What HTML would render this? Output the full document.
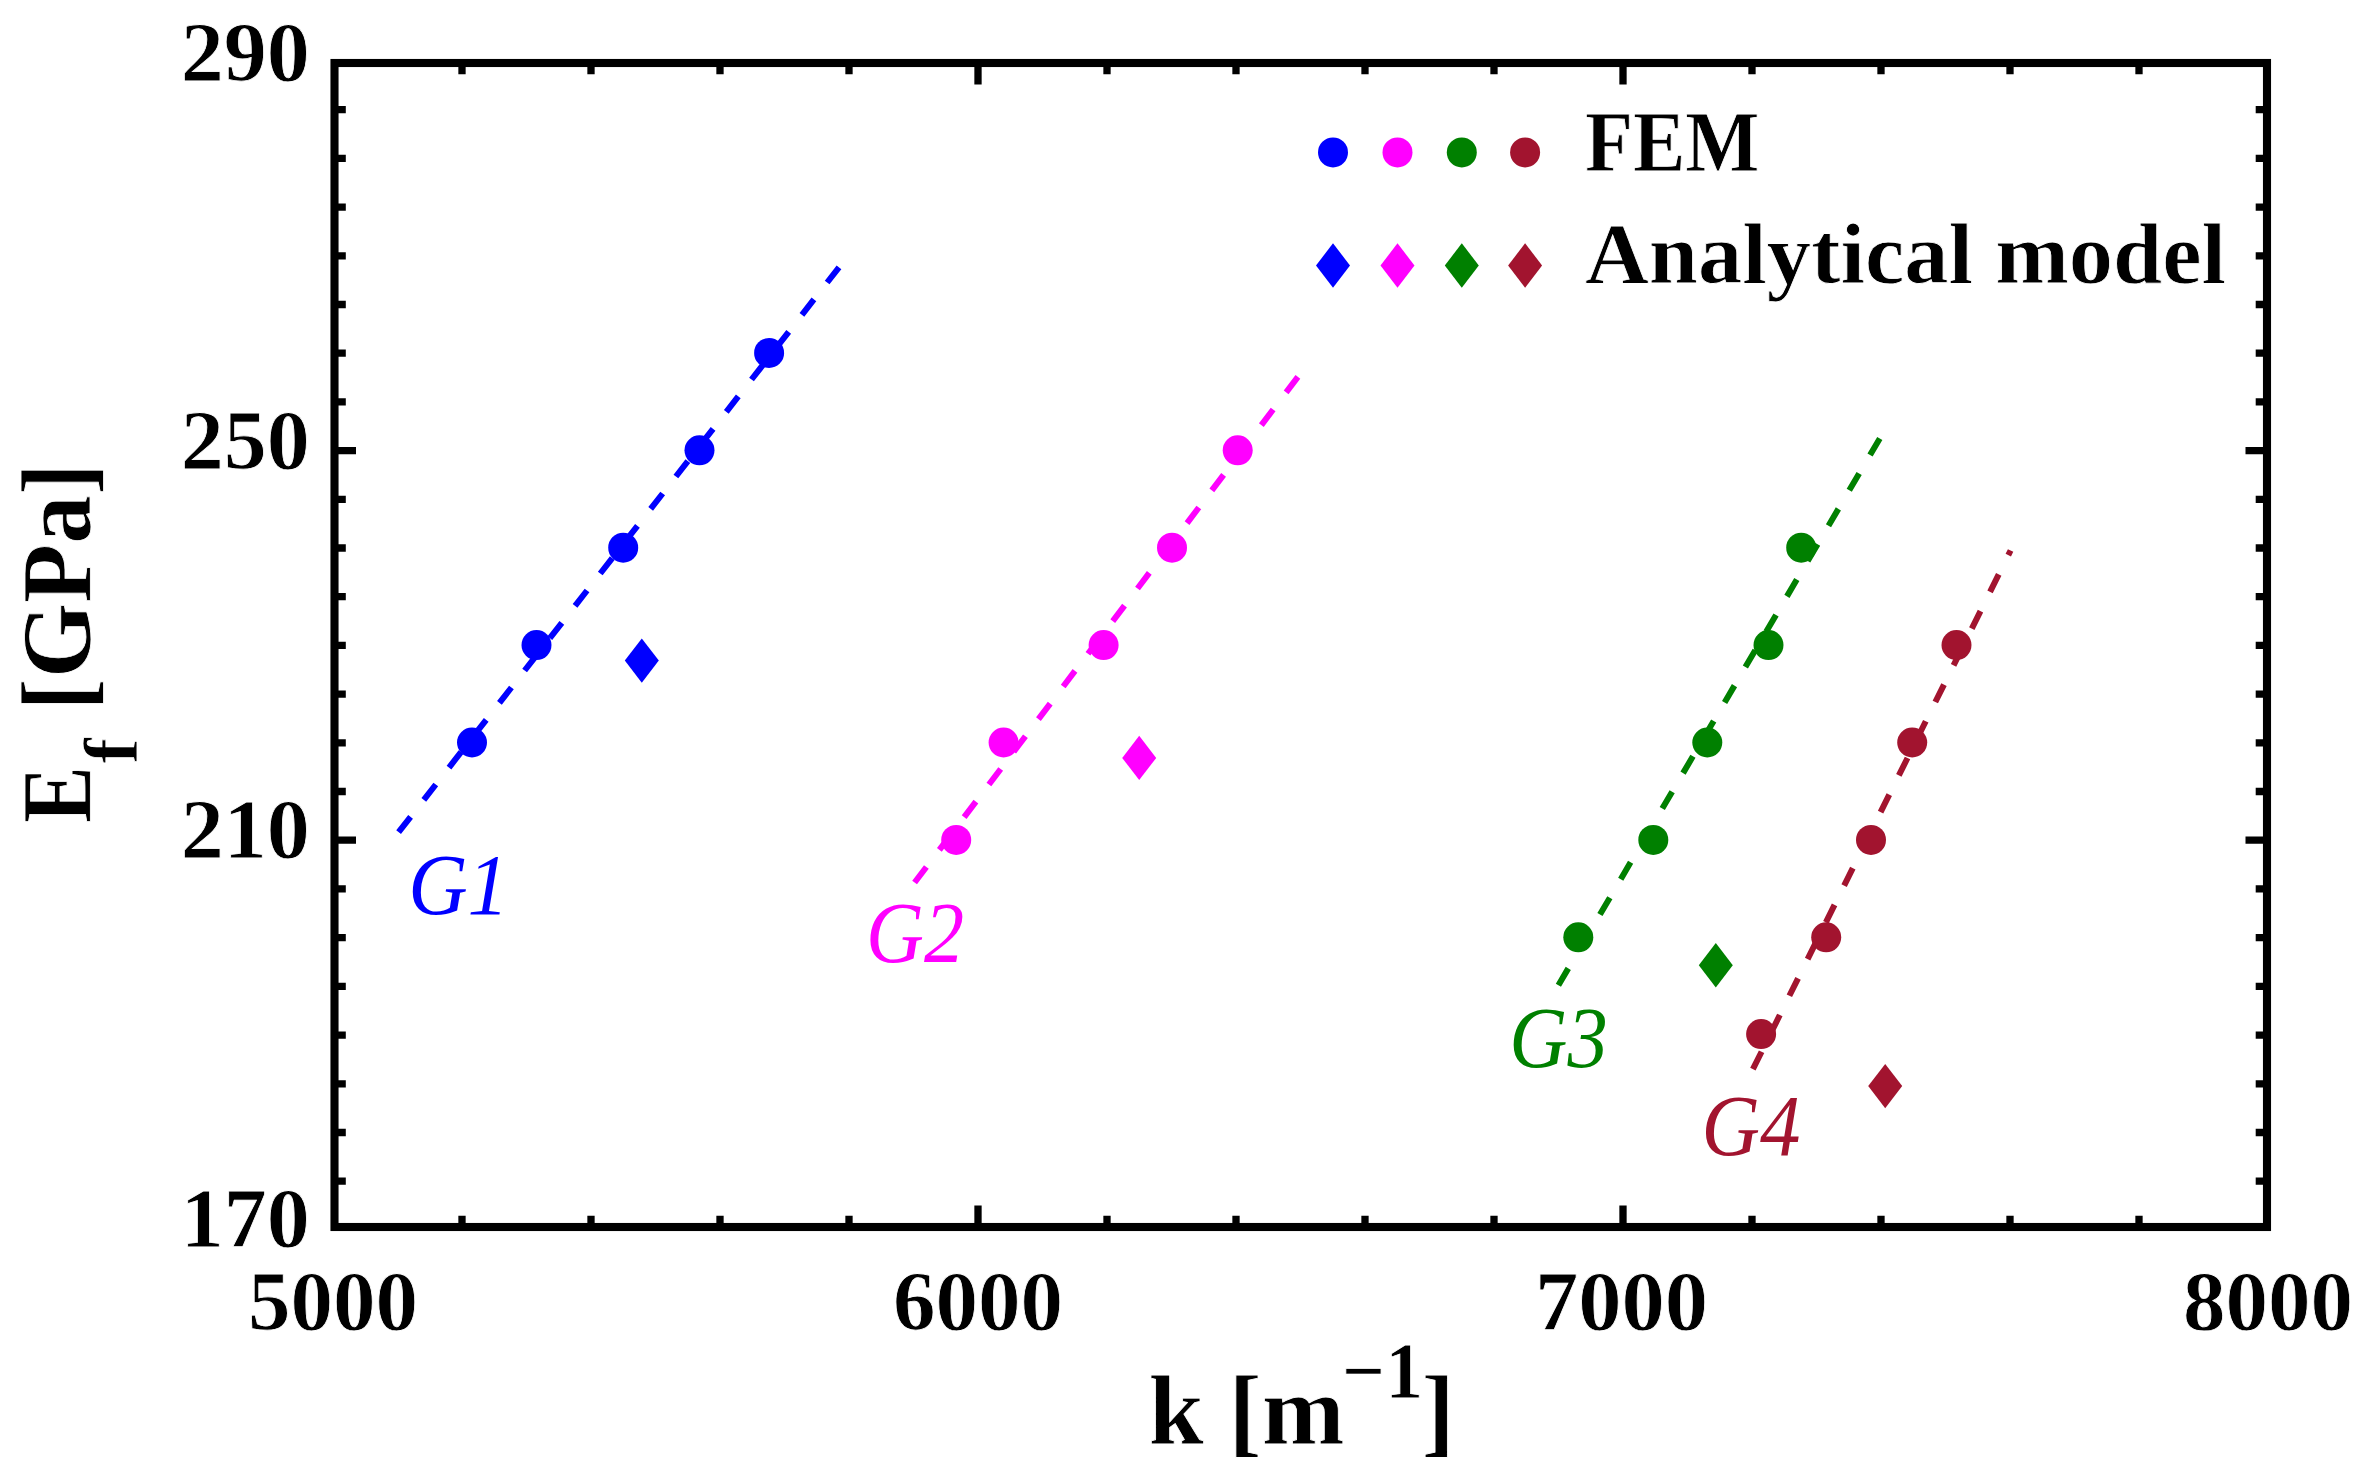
<!DOCTYPE html>
<html lang="en"><head><meta charset="utf-8"><title>E_f vs k</title>
<style>html,body{margin:0;padding:0;background:#fff}svg{display:block}text{font-family:"Liberation Serif","DejaVu Serif",serif}.b{font-weight:bold;fill:#000;stroke:#fff;stroke-width:0.8px}.i{font-style:italic}</style></head><body>
<svg width="2358" height="1466" viewBox="0 0 2358 1466">
<g>
<rect width="2358" height="1466" fill="#fff"/>
<g stroke="#000" stroke-width="7.3" fill="none">
<path d="M462.0 63.0v11.3M462.0 1227.0v-11.3"/>
<path d="M591.0 63.0v11.3M591.0 1227.0v-11.3"/>
<path d="M720.0 63.0v11.3M720.0 1227.0v-11.3"/>
<path d="M849.0 63.0v11.3M849.0 1227.0v-11.3"/>
<path d="M978.0 63.0v21.5M978.0 1227.0v-21.5"/>
<path d="M1107.0 63.0v11.3M1107.0 1227.0v-11.3"/>
<path d="M1236.0 63.0v11.3M1236.0 1227.0v-11.3"/>
<path d="M1365.0 63.0v11.3M1365.0 1227.0v-11.3"/>
<path d="M1494.0 63.0v11.3M1494.0 1227.0v-11.3"/>
<path d="M1623.0 63.0v21.5M1623.0 1227.0v-21.5"/>
<path d="M1752.0 63.0v11.3M1752.0 1227.0v-11.3"/>
<path d="M1881.0 63.0v11.3M1881.0 1227.0v-11.3"/>
<path d="M2010.0 63.0v11.3M2010.0 1227.0v-11.3"/>
<path d="M2139.0 63.0v11.3M2139.0 1227.0v-11.3"/>
<path d="M334.5 1181.2h11.3M2267.0 1181.2h-11.3"/>
<path d="M334.5 1132.5h11.3M2267.0 1132.5h-11.3"/>
<path d="M334.5 1083.8h11.3M2267.0 1083.8h-11.3"/>
<path d="M334.5 1035.1h11.3M2267.0 1035.1h-11.3"/>
<path d="M334.5 986.3h11.3M2267.0 986.3h-11.3"/>
<path d="M334.5 937.6h11.3M2267.0 937.6h-11.3"/>
<path d="M334.5 888.9h11.3M2267.0 888.9h-11.3"/>
<path d="M334.5 840.2h21.5M2267.0 840.2h-21.5"/>
<path d="M334.5 791.5h11.3M2267.0 791.5h-11.3"/>
<path d="M334.5 742.8h11.3M2267.0 742.8h-11.3"/>
<path d="M334.5 694.1h11.3M2267.0 694.1h-11.3"/>
<path d="M334.5 645.4h11.3M2267.0 645.4h-11.3"/>
<path d="M334.5 596.7h11.3M2267.0 596.7h-11.3"/>
<path d="M334.5 548.0h11.3M2267.0 548.0h-11.3"/>
<path d="M334.5 499.3h11.3M2267.0 499.3h-11.3"/>
<path d="M334.5 450.6h21.5M2267.0 450.6h-21.5"/>
<path d="M334.5 401.9h11.3M2267.0 401.9h-11.3"/>
<path d="M334.5 353.2h11.3M2267.0 353.2h-11.3"/>
<path d="M334.5 304.5h11.3M2267.0 304.5h-11.3"/>
<path d="M334.5 255.8h11.3M2267.0 255.8h-11.3"/>
<path d="M334.5 207.1h11.3M2267.0 207.1h-11.3"/>
<path d="M334.5 158.4h11.3M2267.0 158.4h-11.3"/>
<path d="M334.5 109.7h11.3M2267.0 109.7h-11.3"/>
</g>
<rect x="334.5" y="63.0" width="1932.5" height="1164.0" fill="none" stroke="#000" stroke-width="8.1"/>
<line x1="398.6" y1="832.2" x2="839" y2="267.3" stroke="#0000ff" stroke-width="6" stroke-dasharray="19.5 21.5"/>
<circle cx="472.0" cy="742.5" r="15" fill="#0000ff"/>
<circle cx="536.5" cy="645.1" r="15" fill="#0000ff"/>
<circle cx="623.2" cy="547.7" r="15" fill="#0000ff"/>
<circle cx="699.5" cy="450.3" r="15" fill="#0000ff"/>
<circle cx="769.1" cy="352.9" r="15" fill="#0000ff"/>
<path d="M641.8 638.4L658.8 660.6L641.8 682.8L624.8 660.6Z" fill="#0000ff"/>
<text class="i" x="408.2" y="913.5" font-size="87" fill="#0000ff" textLength="100.6" lengthAdjust="spacingAndGlyphs">G1</text>
<line x1="914.6" y1="882.5" x2="1298.4" y2="376.2" stroke="#ff00ff" stroke-width="6" stroke-dasharray="19.5 21.5"/>
<circle cx="956.2" cy="839.9" r="15" fill="#ff00ff"/>
<circle cx="1003.6" cy="742.5" r="15" fill="#ff00ff"/>
<circle cx="1103.6" cy="645.1" r="15" fill="#ff00ff"/>
<circle cx="1172.0" cy="547.7" r="15" fill="#ff00ff"/>
<circle cx="1237.7" cy="450.3" r="15" fill="#ff00ff"/>
<path d="M1139.2 735.7L1156.2 757.9L1139.2 780.1L1122.2 757.9Z" fill="#ff00ff"/>
<text class="i" x="866.0" y="961.7" font-size="87" fill="#ff00ff" textLength="98.0" lengthAdjust="spacingAndGlyphs">G2</text>
<line x1="1558.4" y1="985.2" x2="1879.8" y2="438.4" stroke="#008000" stroke-width="6" stroke-dasharray="19.5 21.5"/>
<circle cx="1578.3" cy="937.3" r="15" fill="#008000"/>
<circle cx="1653.3" cy="839.9" r="15" fill="#008000"/>
<circle cx="1707.3" cy="742.5" r="15" fill="#008000"/>
<circle cx="1768.5" cy="645.1" r="15" fill="#008000"/>
<circle cx="1801.2" cy="547.7" r="15" fill="#008000"/>
<path d="M1715.8 943.1L1732.8 965.3L1715.8 987.5L1698.8 965.3Z" fill="#008000"/>
<text class="i" x="1509.3" y="1067" font-size="87" fill="#008000" textLength="98.5" lengthAdjust="spacingAndGlyphs">G3</text>
<line x1="1752.9" y1="1069.2" x2="2010.6" y2="550.5" stroke="#a2142f" stroke-width="6" stroke-dasharray="19.5 21.5"/>
<circle cx="1761.1" cy="1034.1" r="15" fill="#a2142f"/>
<circle cx="1826.2" cy="937.3" r="15" fill="#a2142f"/>
<circle cx="1871.0" cy="839.9" r="15" fill="#a2142f"/>
<circle cx="1912.2" cy="742.5" r="15" fill="#a2142f"/>
<circle cx="1956.5" cy="645.1" r="15" fill="#a2142f"/>
<path d="M1885.2 1063.9L1902.2 1086.1L1885.2 1108.3L1868.2 1086.1Z" fill="#a2142f"/>
<text class="i" x="1701.5" y="1155" font-size="87" fill="#a2142f" textLength="99.0" lengthAdjust="spacingAndGlyphs">G4</text>
<circle cx="1333" cy="152.4" r="15" fill="#0000ff"/>
<path d="M1333.0 243.3L1350.0 265.5L1333.0 287.7L1316.0 265.5Z" fill="#0000ff"/>
<circle cx="1397.5" cy="152.4" r="15" fill="#ff00ff"/>
<path d="M1397.5 243.3L1414.5 265.5L1397.5 287.7L1380.5 265.5Z" fill="#ff00ff"/>
<circle cx="1461.8" cy="152.4" r="15" fill="#008000"/>
<path d="M1461.8 243.3L1478.8 265.5L1461.8 287.7L1444.8 265.5Z" fill="#008000"/>
<circle cx="1525.1" cy="152.4" r="15" fill="#a2142f"/>
<path d="M1525.1 243.3L1542.1 265.5L1525.1 287.7L1508.1 265.5Z" fill="#a2142f"/>
<text class="b" x="1585" y="170.6" font-size="86" textLength="174.5" lengthAdjust="spacingAndGlyphs">FEM</text>
<text class="b" x="1585" y="283" font-size="86" textLength="641" lengthAdjust="spacingAndGlyphs">Analytical model</text>
<text class="b" x="180.8" y="81" font-size="85" textLength="129" lengthAdjust="spacingAndGlyphs">290</text>
<text class="b" x="180.8" y="469.4" font-size="85" textLength="129" lengthAdjust="spacingAndGlyphs">250</text>
<text class="b" x="180.8" y="857.6" font-size="85" textLength="129" lengthAdjust="spacingAndGlyphs">210</text>
<text class="b" x="180.8" y="1246.9" font-size="85" textLength="129" lengthAdjust="spacingAndGlyphs">170</text>
<text class="b" x="247.9" y="1329.5" font-size="85" textLength="170.2" lengthAdjust="spacingAndGlyphs">5000</text>
<text class="b" x="892.9" y="1329.5" font-size="85" textLength="170.2" lengthAdjust="spacingAndGlyphs">6000</text>
<text class="b" x="1534.9" y="1329.5" font-size="85" textLength="173.2" lengthAdjust="spacingAndGlyphs">7000</text>
<text class="b" x="2182.9" y="1329.5" font-size="85" textLength="170.2" lengthAdjust="spacingAndGlyphs">8000</text>
<text class="b" x="1148.5" y="1443.6" font-size="100" textLength="196" lengthAdjust="spacingAndGlyphs">k [m</text>
<text class="b" x="1342" y="1397.8" font-size="80" textLength="81" lengthAdjust="spacingAndGlyphs">−1</text>
<text class="b" x="1421.5" y="1443.6" font-size="100">]</text>
<text class="b" transform="translate(89.6 823) rotate(-90)" font-size="100" textLength="57" lengthAdjust="spacingAndGlyphs">E</text>
<text class="b" transform="translate(136.5 763.5) rotate(-90)" font-size="76">f</text>
<text class="b" transform="translate(89.6 710.5) rotate(-90)" font-size="100" textLength="247.5" lengthAdjust="spacingAndGlyphs">[GPa]</text>
</g></svg></body></html>
